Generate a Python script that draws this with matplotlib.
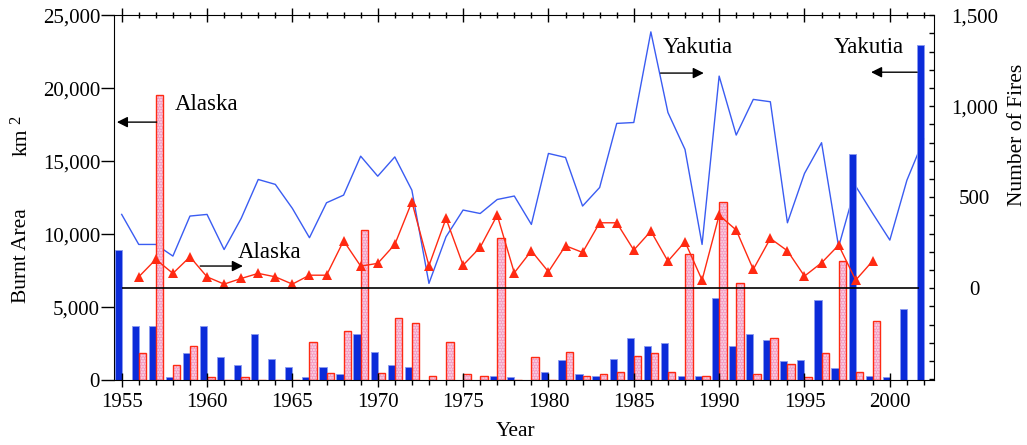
import numpy as np
import matplotlib.pyplot as plt
from matplotlib.ticker import FuncFormatter, MultipleLocator, FixedLocator

plt.rcParams['font.family'] = ['Liberation Serif', 'DejaVu Serif']
plt.rcParams['hatch.linewidth'] = 1.0

years = np.arange(1955, 2003)

# burnt area, km^2 (left axis)
yakutia_area = [8900, 3700, 3700, 230, 1830, 3700, 1600, 1030, 3130, 1440,
                870, 230, 870, 390, 3130, 1920, 1030, 870, 0, 0,
                0, 0, 300, 230, 0, 570, 1370, 390, 300, 1440,
                2900, 2330, 2510, 300, 300, 5590, 2330, 3130, 2740, 1280,
                1370, 5500, 800, 15480, 300, 230, 4840, 22950]
alaska_area = [np.nan, 1830, 19500, 1030, 2330, 230, 0, 230, 0, 0,
               0, 2620, 500, 3380, 10270, 500, 4270, 3930, 300, 2620,
               390, 300, 9700, 0, 1600, 0, 1920, 300, 390, 520,
               1670, 1830, 520, 8630, 300, 12170, 6620, 390, 2900, 1120,
               230, 1830, 8150, 520, 4040, np.nan, np.nan, np.nan]

# number of fires (right axis)
yakutia_fires = [405, 240, 240, 176, 396, 405, 212, 383, 597, 570,
                 438, 277, 469, 511, 725, 615, 721, 538, 26, 282,
                 429, 410, 487, 506, 350, 740, 718, 451, 553, 905,
                 910, 1408, 965, 762, 240, 1165, 841, 1037, 1024, 359,
                 630, 799, 227, 560, 410, 264, 593, 820]
alaska_fires = [np.nan, 62, 158, 81, 172, 62, 22, 53, 81, 62,
                22, 71, 71, 260, 121, 136, 240, 474, 123, 383,
                126, 224, 401, 84, 205, 90, 233, 196, 359, 359,
                209, 313, 148, 255, 44, 401, 319, 103, 273, 205,
                66, 139, 236, 44, 150, np.nan, np.nan, np.nan]

area_ticks = [0, 5000, 10000, 15000, 20000, 25000]
fire_ticks = [0, 500, 1000, 1500]

BLUE = '#0b2bd9'
PINK = '#f49cc2'
RED = '#ff2a12'

fig = plt.figure(figsize=(10.27, 4.45), dpi=100)
ax = fig.add_axes([0.111, 0.146, 0.798, 0.820])
ax_back = ax.twinx()   # Yakutia fires, drawn under the bars
ax_front = ax.twinx()  # Alaska fires + zero line, drawn over the bars

ax_back.set_zorder(1)
ax.set_zorder(2)
ax_front.set_zorder(3)
ax.patch.set_visible(False)
ax_front.patch.set_visible(False)

# bars: Yakutia left of the year tick, Alaska right of it
ax.bar(years, yakutia_area, width=-0.42, align='edge', color=BLUE,
       edgecolor='#8a9af0', linewidth=0.6)
ax.bar(years, alaska_area, width=0.44, align='edge', color=PINK,
       edgecolor='#fbe0ec', hatch='......', linewidth=0)
ax.bar(years, alaska_area, width=0.44, align='edge', fill=False,
       edgecolor=RED, linewidth=1.0)

ax_back.plot(years, yakutia_fires, color='#3a5cf2', lw=1.0)
ax_front.plot(years, alaska_fires, color=RED, lw=1.0, marker='^',
              markersize=7, markeredgewidth=0)
ax_front.hlines(0, years[0], 2001.7, color='k', lw=1.2)

ax.set_xlim(1954.55, 2002.56)
ax.set_ylim(0, 25000)
for a in (ax_back, ax_front):
    a.set_ylim(-505, 1500)
ax_back.axis('off')

# left axis
ax.yaxis.set_major_locator(FixedLocator(area_ticks))
ax.yaxis.set_major_formatter(FuncFormatter(lambda v, p: f'{v:,.0f}'))
ax.tick_params(axis='y', direction='out', length=9.5, width=1, pad=0.5,
               labelsize=15)
plt.setp(ax.get_yticklabels(), va='center_baseline')

# bottom axis
ax.xaxis.set_major_locator(MultipleLocator(5))
ax.xaxis.set_minor_locator(MultipleLocator(1))
ax.tick_params(axis='x', which='major', direction='inout', length=10,
               width=1, pad=4, labelsize=15)
ax.tick_params(axis='x', which='minor', direction='out', length=3.6,
               width=1)
ax.spines['right'].set_visible(False)

# top axis ticks on the front twin
ax_front.xaxis.set_visible(True)
ax_front.xaxis.set_major_locator(MultipleLocator(5))
ax_front.xaxis.set_minor_locator(MultipleLocator(1))
ax_front.tick_params(axis='x', which='both', bottom=False, top=True,
                     labelbottom=False, labeltop=False, direction='inout',
                     width=1)
ax_front.tick_params(axis='x', which='major', length=10)
ax_front.tick_params(axis='x', which='minor', length=5)
for side in ('left', 'top', 'bottom'):
    ax_front.spines[side].set_visible(False)

# right axis
ax_front.yaxis.set_major_locator(FixedLocator(fire_ticks))
ax_front.yaxis.set_minor_locator(MultipleLocator(100))
ax_front.yaxis.set_major_formatter(FuncFormatter(lambda v, p: f'{v:,.0f}'))
ax_front.tick_params(axis='y', which='both', direction='in', length=3.8,
                     width=1, pad=29.5, labelsize=15)
plt.setp(ax_front.get_yticklabels(), ha='center', va='center_baseline')

# axis titles
fig.text(516 / 1027, 1 - 432 / 445, 'Year', ha='center', va='center',
         fontsize=15.5)
fig.text(1017 / 1027, 1 - 135 / 445, 'Number of Fires', ha='center',
         va='center', rotation=90, fontsize=15.5)
fig.text(22 / 1027, 1 - 256 / 445, 'Burnt Area', ha='center', va='center',
         rotation=90, fontsize=15.5)
fig.text(22 / 1027, 1 - 142 / 445, 'km', ha='center', va='center',
         rotation=90, fontsize=15.5)
fig.text(16 / 1027, 1 - 120 / 445, '2', ha='center', va='center',
         rotation=90, fontsize=12)

# series labels with arrows to their axes
arrow = dict(arrowstyle='-|>', color='k', lw=1.0, mutation_scale=16,
             shrinkA=0, shrinkB=0)
ax.text(1958.1, 18900, 'Alaska', fontsize=16.5, va='center')
ax.annotate('', xy=(1954.72, 17670), xytext=(1957.05, 17670),
            arrowprops=arrow, zorder=1)
ax.text(1961.8, 8770, 'Alaska', fontsize=16.5, va='center')
ax.annotate('', xy=(1962.1, 7810), xytext=(1959.6, 7810), arrowprops=arrow)
ax.text(1986.7, 22800, 'Yakutia', fontsize=16.5, va='center')
ax.annotate('', xy=(1989.1, 21030), xytext=(1986.57, 21030),
            arrowprops=arrow)
ax.text(1996.7, 22800, 'Yakutia', fontsize=16.5, va='center')
ax.annotate('', xy=(1998.9, 21090), xytext=(2001.6, 21090),
            arrowprops=arrow)

fig.savefig('out.png', dpi=100)
